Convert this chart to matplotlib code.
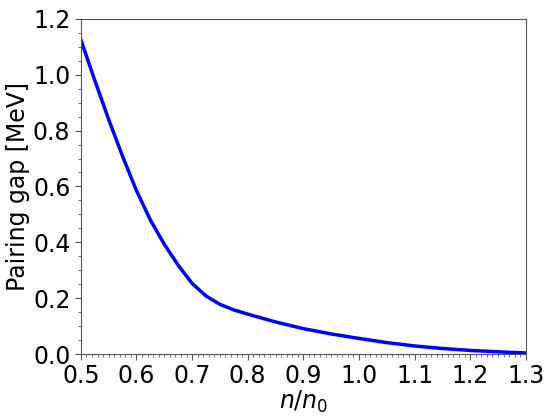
import matplotlib.pyplot as plt
from matplotlib.ticker import MultipleLocator

# density ratio n/n0 and pairing gap in MeV
density = [0.500, 0.525, 0.550, 0.575, 0.600, 0.625, 0.650, 0.675, 0.700,
           0.725, 0.750, 0.775, 0.800, 0.850, 0.900, 0.950, 1.000, 1.050,
           1.100, 1.150, 1.200, 1.250, 1.300]
gap = [1.125, 0.980, 0.840, 0.708, 0.585, 0.480, 0.393, 0.318, 0.253,
       0.208, 0.178, 0.158, 0.143, 0.115, 0.091, 0.072, 0.056, 0.041,
       0.029, 0.020, 0.013, 0.008, 0.004]

fig = plt.figure(figsize=(5.5, 4.19), dpi=100)
ax = fig.add_axes([0.147, 0.155, 0.809, 0.800])
ax.plot(density, gap, color="blue", lw=2.5)

ax.set_xlim(0.5, 1.3)
ax.set_ylim(0.0, 1.2)
ax.xaxis.set_major_locator(MultipleLocator(0.1))
ax.xaxis.set_minor_locator(MultipleLocator(0.01))
ax.yaxis.set_major_locator(MultipleLocator(0.2))
ax.yaxis.set_minor_locator(MultipleLocator(0.05))
ax.tick_params(axis="both", which="major", labelsize=17, length=4, color="#555555")
ax.tick_params(axis="both", which="minor", length=2, color="#555555")
for s in ax.spines.values():
    s.set_color("#555555")

ax.set_xlabel(r"$n/n_0$", fontsize=17, labelpad=0)
ax.set_ylabel("Pairing gap [MeV]", fontsize=17, labelpad=2)

fig.savefig("out.png", dpi=100)
